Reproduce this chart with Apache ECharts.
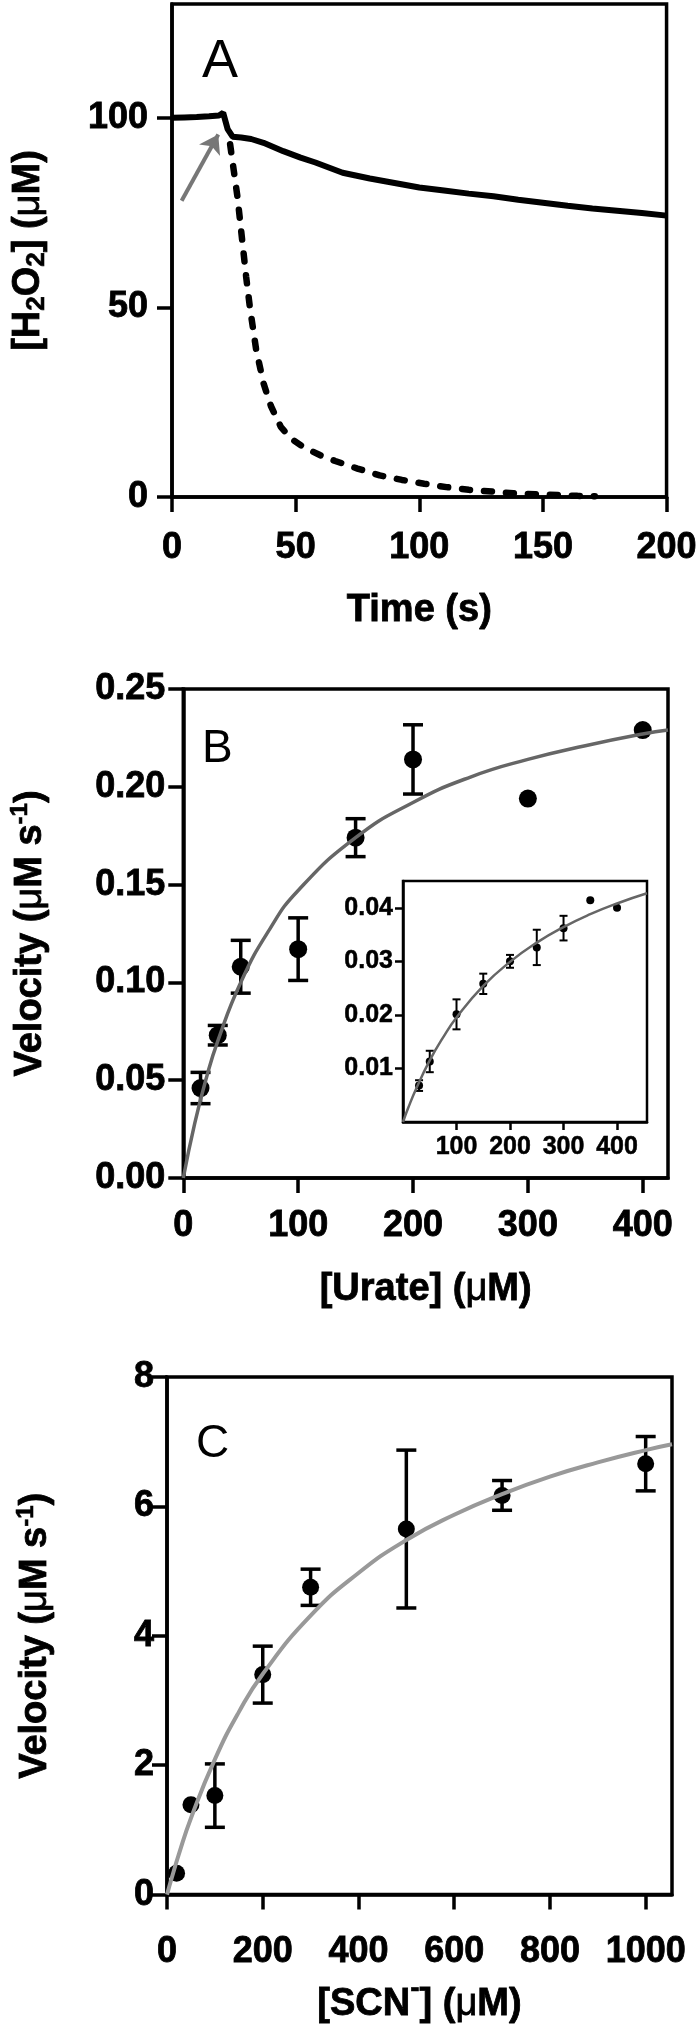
<!DOCTYPE html>
<html>
<head>
<meta charset="utf-8">
<script src="https://cdn.jsdelivr.net/npm/echarts@6/dist/echarts.min.js"></script>
<style>
  html, body { margin: 0; padding: 0; background: #fff; }
  #chart { width: 700px; height: 2025px; }
</style>
</head>
<body>
<div id="chart"></div>
<script>
// panel A: H2O2 traces
const timeSolid = [0, 5, 10, 15, 19, 20.7, 22.5, 24.5, 28, 32, 37, 45, 52, 58, 69, 80, 90, 100, 110, 120, 130, 140, 150, 160, 170, 180, 190, 200];
const h2o2Solid = [100, 100.1, 100.2, 100.4, 100.6, 101.3, 97, 95, 94.8, 94.4, 93.4, 91.2, 89.5, 88.2, 85.5, 84, 82.8, 81.6, 80.8, 80, 79.3, 78.4, 77.6, 76.8, 76.1, 75.5, 74.9, 74.2];
const timeDashed = [23.5, 25, 26.5, 28, 30, 31.5, 34, 37, 40, 44, 48, 53, 60, 66, 75, 84, 93, 102, 111, 120, 130, 138, 147, 156, 164, 171];
const h2o2Dashed = [93, 86, 79, 70, 58, 50, 39, 30, 24, 18.5, 15.5, 13.2, 11, 9.5, 7.5, 5.7, 4.5, 3.5, 2.6, 1.9, 1.4, 1.0, 0.7, 0.5, 0.3, 0.2];
const arrowFrom = [3.9, 78.1];
const arrowTo = [18.7, 95.6];
const ticksA_x = [0, 50, 100, 150, 200];
const ticksA_y = [0, 50, 100];

// panel B: urate
const urate = [15, 30, 50, 100, 150, 200, 300, 400];
const velUrate = [0.046, 0.073, 0.108, 0.117, 0.174, 0.214, 0.194, 0.229];
const errUrate = [0.008, 0.005, 0.0135, 0.016, 0.0097, 0.0177, 0, 0];
const fitUrateX = [0, 10, 20, 30, 50, 75, 100, 150, 200, 250, 300, 350, 400, 422];
const fitUrateY = [0, 0.028, 0.051, 0.070, 0.100, 0.127, 0.147, 0.174, 0.192, 0.205, 0.214, 0.221, 0.227, 0.229];
const ticksB_x = [0, 100, 200, 300, 400];
const ticksB_y = [0, 0.05, 0.10, 0.15, 0.20, 0.25];

// panel B inset
const urateIn = [30, 50, 100, 150, 200, 250, 300, 350, 400];
const velIn = [0.0068, 0.0113, 0.0201, 0.0258, 0.0300, 0.0326, 0.0362, 0.0414, 0.0400];
const errIn = [0.0010, 0.0020, 0.0028, 0.0019, 0.0012, 0.0033, 0.0023, 0, 0];
const fitInX = [0, 10, 25, 50, 75, 100, 150, 200, 250, 300, 350, 400, 456];
const fitInY = [0, 0.0027, 0.0063, 0.0115, 0.0158, 0.0195, 0.0254, 0.0299, 0.0335, 0.0364, 0.0388, 0.0408, 0.0427];
const ticksIn_x = [100, 200, 300, 400];
const ticksIn_y = [0.01, 0.02, 0.03, 0.04];

// panel C: SCN-
const scn = [20, 50, 100, 200, 300, 500, 700, 1000];
const velScn = [0.33, 1.39, 1.53, 3.40, 4.75, 5.65, 6.17, 6.66];
const errScn = [0, 0, 0.49, 0.44, 0.28, 1.22, 0.23, 0.42];
const fitScnX = [0, 10, 25, 50, 100, 150, 200, 300, 400, 500, 600, 700, 800, 900, 1000, 1055];
const fitScnY = [0, 0.26, 0.63, 1.18, 2.09, 2.82, 3.41, 4.31, 4.97, 5.48, 5.87, 6.19, 6.46, 6.68, 6.87, 6.96];
const ticksC_x = [0, 200, 400, 600, 800, 1000];
const ticksC_y = [0, 2, 4, 6, 8];

const FONT = "'Liberation Sans', Arial, sans-serif";
const chart = echarts.init(document.getElementById("chart"));

function pairs(xs, ys) {
  return xs.map((x, i) => [x, ys[i]]);
}
function triples(xs, ys, es) {
  return xs.map((x, i) => [x, ys[i], es[i]]).filter(d => d[2] > 0);
}

function errorBars(cap, width) {
  return function (params, api) {
    const x = api.value(0), y = api.value(1), e = api.value(2);
    const top = api.coord([x, y + e]);
    const bot = api.coord([x, y - e]);
    const st = { stroke: "#000", lineWidth: width };
    return {
      type: "group",
      children: [
        { type: "line", shape: { x1: top[0], y1: top[1], x2: bot[0], y2: bot[1] }, style: st },
        { type: "line", shape: { x1: top[0] - cap / 2, y1: top[1], x2: top[0] + cap / 2, y2: top[1] }, style: st },
        { type: "line", shape: { x1: bot[0] - cap / 2, y1: bot[1], x2: bot[0] + cap / 2, y2: bot[1] }, style: st }
      ]
    };
  };
}

const labelFont = { color: "#000", fontSize: 36, fontWeight: "bold", fontFamily: FONT, textBorderColor: "#000", textBorderWidth: 0.8 };
const nameFont = { color: "#000", fontSize: 38, fontWeight: "bold", fontFamily: FONT, textBorderColor: "#000", textBorderWidth: 0.8 };

function mainX(grid, min, max, ticks, margin, name, nameGap, rich) {
  return {
    type: "value", gridIndex: grid, min: min, max: max,
    axisLine: { show: true, onZero: false, lineStyle: { color: "#000", width: 3.5 } },
    axisTick: { show: true, length: 15, lineStyle: { color: "#000", width: 3.5 }, customValues: ticks },
    axisLabel: Object.assign({ customValues: ticks, margin: margin, formatter: v => String(v) }, labelFont),
    splitLine: { show: false },
    name: name, nameLocation: "middle", nameGap: nameGap,
    nameTextStyle: Object.assign({ rich: rich }, nameFont)
  };
}
function mainY(grid, min, max, ticks, margin, fmt, name, nameGap, rich) {
  return {
    type: "value", gridIndex: grid, min: min, max: max,
    axisLine: { show: true, onZero: false, lineStyle: { color: "#000", width: 3.5 } },
    axisTick: { show: true, length: 15, lineStyle: { color: "#000", width: 3.5 }, customValues: ticks },
    axisLabel: Object.assign({ customValues: ticks, margin: margin, formatter: fmt }, labelFont),
    splitLine: { show: false },
    name: name, nameLocation: "middle", nameGap: nameGap,
    nameTextStyle: Object.assign({ rich: rich }, nameFont)
  };
}

const richText = {
  sub: { fontSize: 26, fontWeight: "bold", fontFamily: FONT, color: "#000", textBorderColor: "#000", textBorderWidth: 0.6, padding: [16, 0, 0, 0] },
  sup: { fontSize: 24, fontWeight: "bold", fontFamily: FONT, color: "#000", textBorderColor: "#000", textBorderWidth: 0.6, padding: [0, 0, 20, 0] },
  supm: { fontSize: 28, fontWeight: "bold", fontFamily: FONT, color: "#000", textBorderColor: "#000", textBorderWidth: 0.6, padding: [0, 0, 30, 0] },
  mu: { fontSize: 38, fontWeight: "normal", fontFamily: FONT, color: "#000" }
};

const gridBox = { show: true, borderColor: "#000", borderWidth: 3.5, backgroundColor: "transparent", containLabel: false };
const letterStyle = { fontWeight: "normal", fontFamily: FONT, color: "#000" };

const option = {
  animation: false,
  backgroundColor: "#fff",
  title: [
    { text: "A", left: 197, top: 30, textStyle: Object.assign({ fontSize: 54 }, letterStyle) },
    { text: "B", left: 197, top: 721, textStyle: Object.assign({ fontSize: 46 }, letterStyle) },
    { text: "C", left: 191, top: 1416, textStyle: Object.assign({ fontSize: 46 }, letterStyle) }
  ],
  grid: [
    Object.assign({ left: 172, top: 4, width: 496, height: 493 }, gridBox),
    Object.assign({ left: 178, top: 689, width: 490, height: 489 }, gridBox),
    Object.assign({ left: 403, top: 881, width: 244, height: 241 }, gridBox, { borderWidth: 2.5, backgroundColor: "#fff" }),
    Object.assign({ left: 167, top: 1377, width: 505, height: 521 }, gridBox)
  ],
  xAxis: [
    mainX(0, 0, 200, ticksA_x, 33, "Time (s)", 95),
    mainX(1, 0, 422, ticksB_x, 30, "[Urate] ({mu|μ}M)", 93, richText),
    {
      type: "value", gridIndex: 2, min: 0, max: 456,
      axisLine: { show: true, onZero: false, lineStyle: { color: "#000", width: 2.5 } },
      axisTick: { show: true, length: 8, lineStyle: { color: "#000", width: 2.5 }, customValues: ticksIn_x },
      axisLabel: { customValues: ticksIn_x, margin: 13, color: "#000", fontSize: 25, fontWeight: "bold", fontFamily: FONT, textBorderColor: "#000", textBorderWidth: 0.5 },
      splitLine: { show: false }
    },
    mainX(3, 0, 1055, ticksC_x, 39, "[SCN{supm|-}] ({mu|μ}M)", 81, richText)
  ],
  yAxis: [
    mainY(0, 0, 130, ticksA_y, 24, null, "[H{sub|2}O{sub|2}] ({mu|μ}M)", 122, richText),
    mainY(1, 0, 0.25, ticksB_y, 18, v => v.toFixed(2), "Velocity ({mu|μ}M s{sup|-1})", 131, richText),
    {
      type: "value", gridIndex: 2, min: 0, max: 0.045,
      axisLine: { show: true, onZero: false, lineStyle: { color: "#000", width: 2.5 } },
      axisTick: { show: true, length: 8, lineStyle: { color: "#000", width: 2.5 }, customValues: ticksIn_y },
      axisLabel: { customValues: ticksIn_y, margin: 10, color: "#000", fontSize: 25, fontWeight: "bold", fontFamily: FONT, textBorderColor: "#000", textBorderWidth: 0.5, formatter: v => v.toFixed(2) },
      splitLine: { show: false }
    },
    mainY(3, 0, 8, ticksC_y, 13, null, "Velocity ({mu|μ}M s{sup|-1})", 109, richText)
  ],
  series: [
    {
      type: "line", xAxisIndex: 0, yAxisIndex: 0, data: pairs(timeSolid, h2o2Solid),
      showSymbol: false, lineStyle: { color: "#000", width: 6 },
      markLine: {
        silent: true, symbol: ["none", "arrow"], symbolSize: 18,
        label: { show: false },
        lineStyle: { color: "#777", width: 4, type: "solid" },
        data: [[{ coord: arrowFrom }, { coord: arrowTo }]]
      }
    },
    {
      type: "line", xAxisIndex: 0, yAxisIndex: 0, data: pairs(timeDashed, h2o2Dashed),
      showSymbol: false, lineStyle: { color: "#000", width: 6.5, type: [8, 14], cap: "round" }
    },
    {
      type: "line", xAxisIndex: 1, yAxisIndex: 1, data: pairs(fitUrateX, fitUrateY),
      showSymbol: false, smooth: true, lineStyle: { color: "#666", width: 3.5 }
    },
    {
      type: "custom", xAxisIndex: 1, yAxisIndex: 1, data: triples(urate, velUrate, errUrate),
      renderItem: errorBars(20, 3.5)
    },
    {
      type: "scatter", xAxisIndex: 1, yAxisIndex: 1, data: pairs(urate, velUrate),
      symbolSize: 18, itemStyle: { color: "#000", opacity: 1 }
    },
    {
      type: "line", xAxisIndex: 2, yAxisIndex: 2, data: pairs(fitInX, fitInY),
      showSymbol: false, smooth: true, lineStyle: { color: "#666", width: 2.5 }
    },
    {
      type: "custom", xAxisIndex: 2, yAxisIndex: 2, data: triples(urateIn, velIn, errIn),
      renderItem: errorBars(8, 2)
    },
    {
      type: "scatter", xAxisIndex: 2, yAxisIndex: 2, data: pairs(urateIn, velIn),
      symbolSize: 8, itemStyle: { color: "#000", opacity: 1 }
    },
    {
      type: "line", xAxisIndex: 3, yAxisIndex: 3, data: pairs(fitScnX, fitScnY),
      showSymbol: false, smooth: true, lineStyle: { color: "#999", width: 4 }
    },
    {
      type: "custom", xAxisIndex: 3, yAxisIndex: 3, data: triples(scn, velScn, errScn),
      renderItem: errorBars(20, 3.5)
    },
    {
      type: "scatter", xAxisIndex: 3, yAxisIndex: 3, data: pairs(scn, velScn),
      symbolSize: 17, itemStyle: { color: "#000", opacity: 1 }
    }
  ]
};

chart.setOption(option);
</script>
</body>
</html>
